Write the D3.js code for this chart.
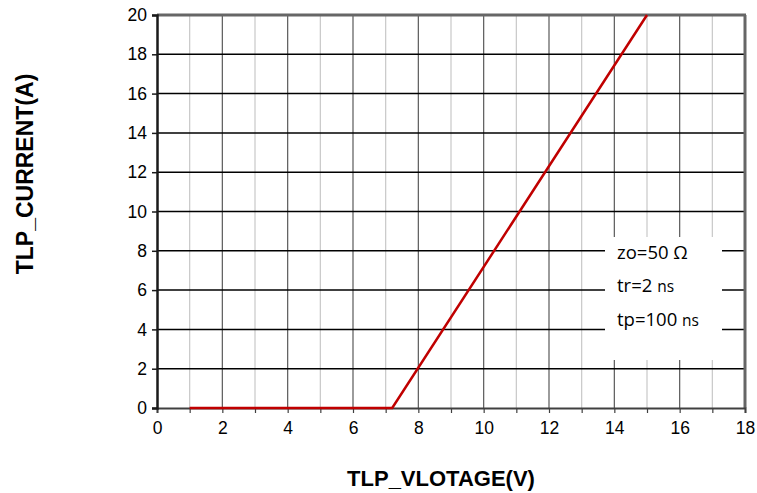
<!DOCTYPE html>
<html><head><meta charset="utf-8">
<script src="https://cdn.jsdelivr.net/npm/d3@7"></script>
<style>body{margin:0;background:#fff;}svg{display:block;}</style>
</head><body>
<svg id="c" width="757" height="493"></svg>
<script>
const voltage = [1, 7.2, 15];
const current = [0, 0, 20];
const xTicks = [0,2,4,6,8,10,12,14,16,18];
const yTicks = [0,2,4,6,8,10,12,14,16,18,20];
const notes = [["zo=50 ","Ω"],["tr=2 ","ns"],["tp=100 ","ns"]];

const svg = d3.select("#c");
const L=157, R=745, T=15, B=408;
const x = d3.scaleLinear().domain([0,18]).range([L,R]);
const y = d3.scaleLinear().domain([0,20]).range([B,T]);

// vertical grid
d3.range(1,18).forEach(v=>{
  svg.append("line").attr("x1",x(v)).attr("x2",x(v)).attr("y1",T).attr("y2",B)
    .attr("stroke", v%2===0 ? "#595959" : "#c8c8c8").attr("stroke-width",1.2);
});
// horizontal grid
yTicks.filter(v=>v>0&&v<20).forEach(v=>{
  svg.append("line").attr("x1",L).attr("x2",R).attr("y1",y(v)).attr("y2",y(v))
    .attr("stroke","#000").attr("stroke-width",1.5);
});

// annotation box
svg.append("rect").attr("x",605).attr("y",237).attr("width",117).attr("height",123).attr("fill","#fff");
const ty=[259,292,326];
notes.forEach((n,i)=>{
  const t = svg.append("text").attr("x",617).attr("y",ty[i])
    .attr("font-family","'Open Sans', Carlito, sans-serif").attr("font-size",18.5).attr("fill","#000");
  t.append("tspan").text(n[0]);
  t.append("tspan").attr("font-size", n[1]==="Ω"?18.5:15.5).text(n[1]);
});

// borders
svg.append("line").attr("x1",L).attr("x2",R+1).attr("y1",T).attr("y2",T).attr("stroke","#666").attr("stroke-width",3);
svg.append("line").attr("x1",R).attr("x2",R).attr("y1",T).attr("y2",B).attr("stroke","#666").attr("stroke-width",3);

// axes
const xAxis = d3.axisBottom(x).tickValues(d3.range(0,19)).tickSize(5).tickFormat(d=>xTicks.includes(d)?d:"");
const gx = svg.append("g").attr("transform",`translate(0,${B})`).call(xAxis);
gx.select(".domain").attr("stroke","#404040").attr("stroke-width",2);
gx.selectAll(".tick line").attr("stroke","#404040").attr("stroke-width",1.2);
gx.selectAll("text").attr("font-family","'Liberation Sans', Arial, sans-serif").attr("font-size",17.5).attr("fill","#000").attr("dy","1.0em");

const yAxis = d3.axisLeft(y).tickValues(yTicks).tickSize(5);
const gy = svg.append("g").attr("transform",`translate(${L},0)`).call(yAxis);
gy.select(".domain").attr("stroke","#1a1a1a").attr("stroke-width",2.5);
gy.selectAll(".tick line").attr("stroke","#1a1a1a").attr("stroke-width",1.5);
gy.selectAll("text").attr("font-family","'Liberation Sans', Arial, sans-serif").attr("font-size",17.5).attr("fill","#000").attr("x",-10);

// series
const data = voltage.map((v,i)=>[v,current[i]]);
svg.append("path").datum(data).attr("fill","none").attr("stroke","#c00000").attr("stroke-width",2.5)
  .attr("d", d3.line().x(d=>x(d[0])).y(d=>y(d[1])));

// titles
svg.append("text").attr("x",441).attr("y",486).attr("text-anchor","middle")
  .attr("font-family","'Liberation Sans', Arial, sans-serif").attr("font-weight","bold").attr("font-size",22).text("TLP_VLOTAGE(V)");
svg.append("text").attr("transform","translate(33,174) rotate(-90)").attr("text-anchor","middle")
  .attr("font-family","'Liberation Sans', Arial, sans-serif").attr("font-weight","bold").attr("font-size",23).text("TLP_CURRENT(A)");
</script>
</body></html>
